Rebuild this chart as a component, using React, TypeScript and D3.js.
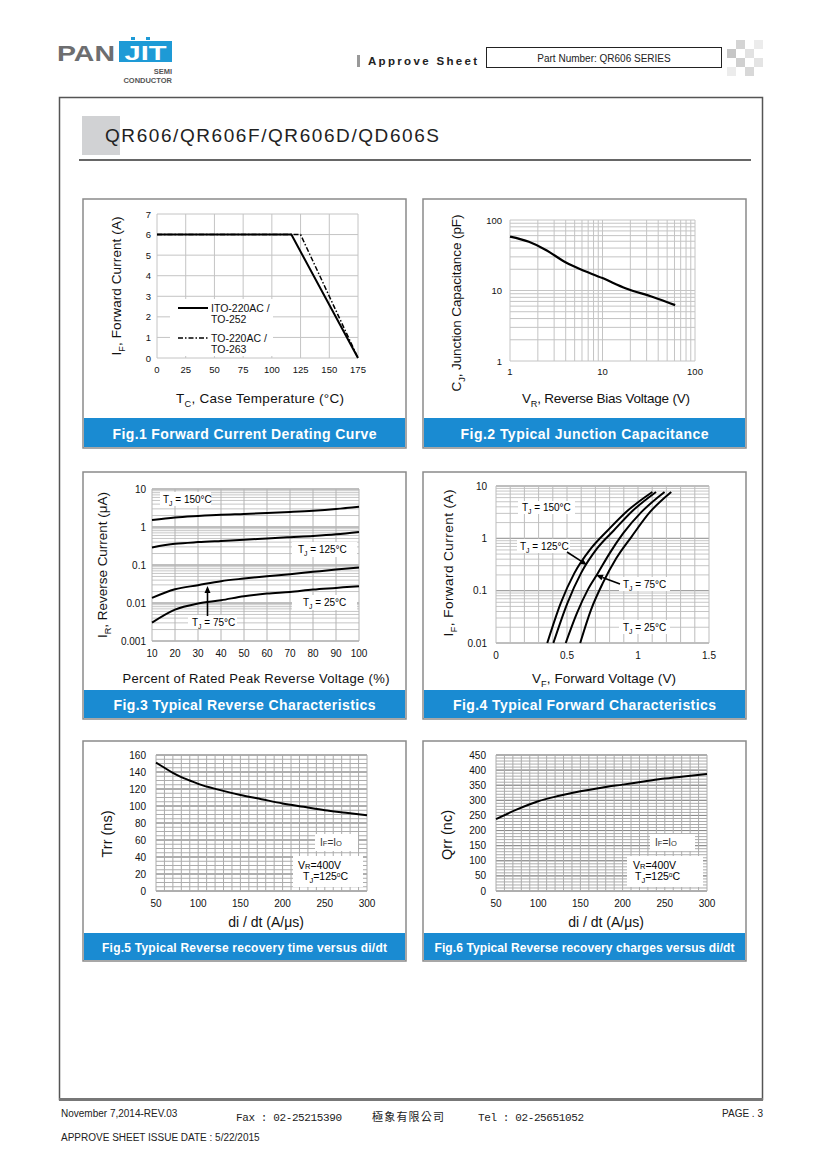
import React from 'react';
import * as d3 from 'd3';

const FONT = '"Liberation Sans", Arial, Helvetica, sans-serif';
const MONO = '"Liberation Mono", "DejaVu Sans Mono", monospace';
const BLUE = '#1a8bd2';

// Fig.1 forward current derating curve
const tcTicks = [0, 25, 50, 75, 100, 125, 150, 175];
const ifTicks = [0, 1, 2, 3, 4, 5, 6, 7];
const itoTemp = [0, 117, 175];
const itoAmps = [6, 6, 0];
const to220Temp = [0, 125, 175];
const to220Amps = [6, 6, 0];

// Fig.2 junction capacitance
const vrTicks = [1, 10, 100];
const cjTicks = [1, 10, 100];
const capVolt = [1, 1.6, 2.5, 3.8, 5.3, 10, 18, 35, 61];
const capPf = [58, 49, 37, 26, 21, 15, 10.7, 8.1, 6.2];

// Fig.3 reverse characteristics
const pctTicks = [10, 20, 30, 40, 50, 60, 70, 80, 90, 100];
const irTicks = [0.001, 0.01, 0.1, 1, 10];
const irLabels = ['0.001', '0.01', '0.1', '1', '10'];
const rev150 = [1.52, 1.78, 1.95, 2.1, 2.2, 2.32, 2.48, 2.68, 2.98, 3.42];
const rev125 = [0.29, 0.36, 0.4, 0.43, 0.46, 0.5, 0.54, 0.58, 0.64, 0.74];
const rev75 = [0.0136, 0.023, 0.0294, 0.0375, 0.044, 0.0507, 0.0573, 0.066, 0.076, 0.086];
const rev25 = [0.00305, 0.0067, 0.0097, 0.0118, 0.0151, 0.0177, 0.0196, 0.0226, 0.025, 0.0277];

// Fig.4 forward characteristics
const vfTicks = [0, 0.5, 1, 1.5];
const vfLabels = ['0', '0.5', '1', '1.5'];
const fwdTicks = [0.01, 0.1, 1, 10];
const fwdLabels = ['0.01', '0.1', '1', '10'];
const fwd150V = [0.361, 0.456, 0.551, 0.669, 0.788, 0.93, 1.101];
const fwd150I = [0.01, 0.058, 0.214, 0.641, 1.43, 3.44, 7.7];
const fwd125V = [0.404, 0.503, 0.598, 0.712, 0.831, 0.966, 1.127];
const fwd125I = [0.01, 0.058, 0.214, 0.641, 1.43, 3.44, 7.7];
const fwd75V = [0.491, 0.57, 0.646, 0.717, 0.8, 0.895, 1.025, 1.187];
const fwd75I = [0.01, 0.0373, 0.1035, 0.215, 0.516, 1.24, 3.2, 7.7];
const fwd25V = [0.593, 0.669, 0.752, 0.847, 0.954, 1.085, 1.234];
const fwd25I = [0.01, 0.043, 0.139, 0.415, 1.07, 3.2, 7.7];

// Fig.5 / Fig.6 reverse recovery
const didtTicks = [50, 100, 150, 200, 250, 300];
const trrTicks = [0, 20, 40, 60, 80, 100, 120, 140, 160];
const trrDidt = [50, 60, 70, 80, 90, 100, 125, 150, 175, 200, 225, 250, 275, 300];
const trrNs = [151, 145, 139, 134, 130, 126, 119, 113, 108, 103, 99, 95, 92, 89];
const qrrTicks = [0, 50, 100, 150, 200, 250, 300, 350, 400, 450];
const qrrDidt = [50, 75, 100, 125, 150, 175, 200, 225, 250, 275, 300];
const qrrNc = [238, 270, 297, 315, 330, 342, 352, 362, 372, 380, 387];

type Box = { x: number; y: number; w: number; h: number; cap: number };

const logGrid = (lo: number, hi: number) =>
  d3
    .range(Math.round(Math.log10(lo)), Math.round(Math.log10(hi)))
    .flatMap((e) => d3.range(1, 10).map((k) => k * Math.pow(10, e)))
    .concat([hi]);

const path = (xs: number[], ys: number[], sx: any, sy: any, curve: any = d3.curveMonotoneX) =>
  d3
    .line<number>()
    .x((_, i) => sx(xs[i]))
    .y((_, i) => sy(ys[i]))
    .curve(curve)(xs) || '';

const Panel = ({ b, caption, size, len }: { b: Box; caption: string; size: number; len: number }) => (
  <g>
    <rect x={b.x} y={b.y} width={b.w} height={b.h} fill="#fff" stroke="#8a8a8a" strokeWidth={1.5} />
    <rect x={b.x + 1} y={b.y + b.h - b.cap - 1} width={b.w - 2} height={b.cap} fill={BLUE} />
    <text
      x={b.x + b.w / 2}
      y={b.y + b.h - b.cap / 2 + size * 0.36}
      textAnchor="middle"
      fill="#fff"
      fontWeight="bold"
      fontSize={size}
      textLength={len}
    >
      {caption}
    </text>
  </g>
);

// text with a subscript letter
const Sub = ({ a, s, b, fs }: { a: string; s: string; b: string; fs: number }) => (
  <>
    {a}
    <tspan fontSize={fs * 0.68} dy={fs * 0.28}>
      {s}
    </tspan>
    <tspan dy={-fs * 0.28}>{b}</tspan>
  </>
);

const Label = ({ x, y, bx, by, bw, bh, t }: any) => (
  <g>
    <rect x={bx} y={by} width={bw} height={bh} fill="#fff" />
    <text x={x} y={y} fontSize={10}>
      <Sub a="T" s="J" b={` = ${t}°C`} fs={10} />
    </text>
  </g>
);

const Arrow = ({ x1, y1, x2, y2 }: any) => {
  const a = Math.atan2(y2 - y1, x2 - x1);
  const L = 7;
  const W = 3;
  const bx = x2 - L * Math.cos(a);
  const by = y2 - L * Math.sin(a);
  const px = -Math.sin(a) * W;
  const py = Math.cos(a) * W;
  return (
    <g>
      <line x1={x1} y1={y1} x2={bx} y2={by} stroke="#000" strokeWidth={1.6} />
      <polygon points={`${x2},${y2} ${bx + px},${by + py} ${bx - px},${by - py}`} fill="#000" />
    </g>
  );
};

const RecoveryNote = ({ b1, b2, tx1, tx2, tx3 }: any) => (
  <g fontSize={10}>
    <rect x={b1[0]} y={b1[1]} width={b1[2]} height={b1[3]} fill="#fff" />
    <rect x={b2[0]} y={b2[1]} width={b2[2]} height={b2[3]} fill="#fff" />
    <text x={tx1} y={846} fill="#333">
      I<tspan fontSize={7.5}>F</tspan>=I<tspan fontSize={7.5}>O</tspan>
    </text>
    <text x={tx2} y={869} fontSize={10.5}>
      V<tspan fontSize={7.5}>R</tspan>=400V
    </text>
    <text x={tx3} y={880} fontSize={10.5}>
      T<tspan fontSize={7.5} dy={2.5}>J</tspan>
      <tspan dy={-2.5}>=125</tspan>
      <tspan fontSize={6.5} dy={-3.5}>o</tspan>
      <tspan dy={3.5}>C</tspan>
    </text>
  </g>
);

export default function App() {
  const x1 = d3.scaleLinear().domain([0, 175]).range([157, 358]);
  const y1 = d3.scaleLinear().domain([0, 7]).range([358, 214]);
  const x2 = d3.scaleLog().domain([1, 100]).range([510, 695]);
  const y2 = d3.scaleLog().domain([1, 100]).range([361, 220]);
  const x3 = d3.scaleLinear().domain([10, 100]).range([152, 359]);
  const y3 = d3.scaleLog().domain([0.001, 10]).range([641, 489]);
  const x4 = d3.scaleLinear().domain([0, 1.5]).range([496, 709]);
  const y4 = d3.scaleLog().domain([0.01, 10]).range([643, 486]);
  const x5 = d3.scaleLinear().domain([50, 300]).range([156, 367]);
  const y5 = d3.scaleLinear().domain([0, 160]).range([891, 755]);
  const x6 = d3.scaleLinear().domain([50, 300]).range([496, 707]);
  const y6 = d3.scaleLinear().domain([0, 450]).range([891, 755]);

  const p1: Box = { x: 83, y: 199, w: 323, h: 249, cap: 29 };
  const p2: Box = { x: 423, y: 199, w: 323, h: 249, cap: 29 };
  const p3: Box = { x: 83, y: 472, w: 323, h: 247, cap: 28 };
  const p4: Box = { x: 423, y: 472, w: 323, h: 247, cap: 28 };
  const p5: Box = { x: 83, y: 741, w: 323, h: 220, cap: 27 };
  const p6: Box = { x: 423, y: 741, w: 323, h: 220, cap: 27 };

  const vl = (vals: number[], sx: any, ya: number, yb: number, stroke: string, key: string) =>
    vals.map((v, i) => (
      <line key={key + i} x1={sx(v)} x2={sx(v)} y1={ya} y2={yb} stroke={stroke} strokeWidth={1} />
    ));
  const hl = (vals: number[], sy: any, xa: number, xb: number, stroke: string, key: string) =>
    vals.map((v, i) => (
      <line key={key + i} x1={xa} x2={xb} y1={sy(v)} y2={sy(v)} stroke={stroke} strokeWidth={1} />
    ));

  const checker = [
    [736, 40, '#d4d4d4'],
    [727, 49, '#c6c6c6'],
    [745, 49, '#e2e2e2'],
    [754, 40, '#ececec'],
    [736, 58, '#d0d0d0'],
    [754, 58, '#e4e4e4'],
    [745, 67, '#d8d8d8'],
    [727, 67, '#ececec'],
  ];

  return (
    <svg
      width={820}
      height={1160}
      style={{ position: 'absolute', left: 0, top: 0, background: '#fff' }}
      fontFamily={FONT}
    >
      <rect x={0} y={0} width={820} height={1160} fill="#fff" />

      {/* header */}
      <text x={57} y={61} fontSize={22} fontWeight="900" fill="#6d6e70" textLength={58} lengthAdjust="spacingAndGlyphs">
        PAN
      </text>
      <rect x={119} y={41} width={53} height={21} fill="#1e9ad6" />
      <rect x={131} y={37} width={4} height={3} fill="#1e9ad6" />
      <rect x={146} y={37} width={4} height={3} fill="#1e9ad6" />
      <text x={145.5} y={60} fontSize={20} fontWeight="900" fill="#fff" textAnchor="middle" textLength={42} lengthAdjust="spacingAndGlyphs">
        JIT
      </text>
      <text x={172} y={74} fontSize={7.5} fontWeight="bold" fill="#555" textAnchor="end">
        SEMI
      </text>
      <text x={172} y={83} fontSize={7.5} fontWeight="bold" fill="#555" textAnchor="end">
        CONDUCTOR
      </text>
      <rect x={357} y={55} width={3} height={12} fill="#999" />
      <text x={368} y={65} fontSize={11.5} fontWeight="bold" fill="#222" textLength={109}>
        Approve Sheet
      </text>
      <rect x={486.5} y={47.5} width={235} height={20} fill="#fff" stroke="#222" strokeWidth={1} />
      <text x={604} y={62} fontSize={10} fill="#222" textAnchor="middle">
        Part Number: QR606 SERIES
      </text>
      {checker.map((c, i) => (
        <rect key={'ck' + i} x={c[0] as number} y={c[1] as number} width={9} height={9} fill={c[2] as string} />
      ))}

      {/* page frame */}
      <rect x={59.5} y={97.5} width={703} height={1002} fill="none" stroke="#555" strokeWidth={1.5} />
      <line x1={59} x2={763} y1={1099.5} y2={1099.5} stroke="#777" strokeWidth={3} />

      {/* title */}
      <rect x={82} y={116} width={38} height={39} fill="#d1d2d4" />
      <text x={105} y={142} fontSize={19} fill="#222" textLength={334}>
        QR606/QR606F/QR606D/QD606S
      </text>
      <line x1={79} x2={751} y1={160} y2={160} stroke="#333" strokeWidth={1.5} />

      {/* ---------- Fig.1 ---------- */}
      <Panel b={p1} caption="Fig.1 Forward Current Derating Curve" size={14} len={264} />
      {vl(tcTicks, x1, 214, 358, '#c4c4c4', 'v1')}
      {hl(ifTicks, y1, 157, 358, '#c4c4c4', 'h1')}
      <rect x={170} y={299} width={103} height={57} fill="#fff" />
      <path d={path(itoTemp, itoAmps, x1, y1, d3.curveLinear)} fill="none" stroke="#000" strokeWidth={2} />
      <path
        d={path(to220Temp, to220Amps, x1, y1, d3.curveLinear)}
        fill="none"
        stroke="#000"
        strokeWidth={1.5}
        strokeDasharray="5,2,1.5,2"
      />
      <line x1={178} x2={208} y1={308} y2={308} stroke="#000" strokeWidth={2} />
      <line x1={178} x2={208} y1={338} y2={338} stroke="#000" strokeWidth={1.5} strokeDasharray="5,2,1.5,2" />
      <g fontSize={10.5} fill="#111">
        <text x={211} y={312}>ITO-220AC /</text>
        <text x={211} y={323}>TO-252</text>
        <text x={211} y={342}>TO-220AC /</text>
        <text x={211} y={353}>TO-263</text>
      </g>
      <g fontSize={9.5} fill="#111">
        {ifTicks.map((t) => (
          <text key={'yl1' + t} x={151} y={y1(t) + 3.5} textAnchor="end">
            {t}
          </text>
        ))}
        {tcTicks.map((t) => (
          <text key={'xl1' + t} x={x1(t)} y={373} textAnchor="middle">
            {t}
          </text>
        ))}
      </g>
      <text transform="translate(121,286) rotate(-90)" fontSize={13.5} textAnchor="middle" fill="#111" textLength={139}>
        <Sub a="I" s="F" b=", Forward Current (A)" fs={13.5} />
      </text>
      <text x={260} y={403} fontSize={13.5} textAnchor="middle" fill="#111" textLength={168}>
        <Sub a="T" s="C" b=", Case Temperature  (°C)" fs={13.5} />
      </text>

      {/* ---------- Fig.2 ---------- */}
      <Panel b={p2} caption="Fig.2 Typical Junction Capacitance" size={14} len={248} />
      {vl(logGrid(1, 100), x2, 220, 361, '#c4c4c4', 'v2')}
      {hl(logGrid(1, 100), y2, 510, 695, '#c4c4c4', 'h2')}
      <path d={path(capVolt, capPf, x2, y2)} fill="none" stroke="#000" strokeWidth={2.2} />
      <g fontSize={9.5} fill="#111">
        {cjTicks.map((t) => (
          <text key={'yl2' + t} x={502} y={y2(t) + 3.5} textAnchor="end">
            {t}
          </text>
        ))}
        {vrTicks.map((t) => (
          <text key={'xl2' + t} x={x2(t)} y={375} textAnchor="middle">
            {t}
          </text>
        ))}
      </g>
      <text transform="translate(461,303) rotate(-90)" fontSize={13.5} textAnchor="middle" fill="#111" textLength={177}>
        <Sub a="C" s="J" b=", Junction Capacitance (pF)" fs={13.5} />
      </text>
      <text x={606} y={403} fontSize={13.5} textAnchor="middle" fill="#111" textLength={168}>
        <Sub a="V" s="R" b=", Reverse Bias Voltage (V)" fs={13.5} />
      </text>

      {/* ---------- Fig.3 ---------- */}
      <Panel b={p3} caption="Fig.3 Typical Reverse Characteristics" size={14} len={262} />
      {hl(logGrid(0.001, 10), y3, 152, 359, '#c6c6c6', 'h3')}
      {hl(irTicks, y3, 152, 359, '#9a9a9a', 'hm3')}
      {vl(pctTicks, x3, 489, 641, '#b4b4b4', 'v3')}
      <Label x={163} y={503} bx={160} by={492} bw={51} bh={14} t="150" />
      <Label x={298} y={553} bx={292} by={542} bw={65} bh={15} t="125" />
      <Label x={303} y={606} bx={292} by={595} bw={65} bh={15} t="25" />
      <Label x={192} y={626} bx={188} by={615} bw={49} bh={14} t="75" />
      {[rev150, rev125, rev75, rev25].map((s, i) => (
        <path key={'r3' + i} d={path(pctTicks, s, x3, y3)} fill="none" stroke="#000" strokeWidth={2} />
      ))}
      <Arrow x1={207.5} y1={616} x2={207.5} y2={586} />
      <g fontSize={10} fill="#111">
        {irTicks.map((t, i) => (
          <text key={'yl3' + i} x={146} y={y3(t) + 3.5} textAnchor="end">
            {irLabels[i]}
          </text>
        ))}
        {pctTicks.map((t) => (
          <text key={'xl3' + t} x={x3(t)} y={657} textAnchor="middle">
            {t}
          </text>
        ))}
      </g>
      <text transform="translate(107,565) rotate(-90)" fontSize={13.5} textAnchor="middle" fill="#111" textLength={146}>
        <Sub a="I" s="R" b=", Reverse Current (μA)" fs={13.5} />
      </text>
      <text x={256} y={683} fontSize={13} textAnchor="middle" fill="#111" textLength={267}>
        Percent of Rated Peak Reverse Voltage (%)
      </text>

      {/* ---------- Fig.4 ---------- */}
      <Panel b={p4} caption="Fig.4 Typical Forward Characteristics" size={14} len={263} />
      {hl(logGrid(0.01, 10), y4, 496, 709, '#c6c6c6', 'h4')}
      {hl(fwdTicks, y4, 496, 709, '#9a9a9a', 'hm4')}
      {vl(d3.range(0, 16).map((k) => k / 10), x4, 486, 643, '#bdbdbd', 'v4')}
      <Label x={522} y={511} bx={518} by={501} bw={57} bh={13} t="150" />
      <Label x={520} y={550} bx={517} by={539} bw={53} bh={14} t="125" />
      <Label x={623} y={588} bx={619} by={577} bw={51} bh={14} t="75" />
      <Label x={623} y={631} bx={619} by={620} bw={51} bh={14} t="25" />
      {[
        [fwd150V, fwd150I],
        [fwd125V, fwd125I],
        [fwd75V, fwd75I],
        [fwd25V, fwd25I],
      ].map((s, i) => (
        <path key={'f4' + i} d={path(s[0], s[1], x4, y4)} fill="none" stroke="#000" strokeWidth={2} />
      ))}
      <Arrow x1={567} y1={552} x2={587} y2={565} />
      <Arrow x1={620} y1={584} x2={596} y2={575} />
      <g fontSize={10} fill="#111">
        {fwdTicks.map((t, i) => (
          <text key={'yl4' + i} x={487} y={y4(t) + 3.5} textAnchor="end">
            {fwdLabels[i]}
          </text>
        ))}
        {vfTicks.map((t, i) => (
          <text key={'xl4' + i} x={x4(t)} y={659} textAnchor="middle">
            {vfLabels[i]}
          </text>
        ))}
      </g>
      <text transform="translate(453,563) rotate(-90)" fontSize={13.5} textAnchor="middle" fill="#111" textLength={147}>
        <Sub a="I" s="F" b=", Forward Current (A)" fs={13.5} />
      </text>
      <text x={604} y={683} fontSize={13.5} textAnchor="middle" fill="#111" textLength={144}>
        <Sub a="V" s="F" b=", Forward Voltage (V)" fs={13.5} />
      </text>

      {/* ---------- Fig.5 ---------- */}
      <Panel b={p5} caption="Fig.5 Typical Reverse recovery time versus di/dt" size={12} len={285} />
      {hl(d3.range(0, 161, 5), y5, 156, 367, '#acacac', 'h5')}
      {hl(trrTicks, y5, 156, 367, '#888', 'hm5')}
      {vl(d3.range(50, 301, 10), x5, 755, 891, '#acacac', 'v5')}
      <RecoveryNote b1={[315, 834, 43, 17]} b2={[293, 856, 70, 31]} tx1={320} tx2={298} tx3={303} />
      <path d={path(trrDidt, trrNs, x5, y5)} fill="none" stroke="#000" strokeWidth={2} />
      <g fontSize={10} fill="#111">
        {trrTicks.map((t) => (
          <text key={'yl5' + t} x={146} y={y5(t) + 3.5} textAnchor="end">
            {t}
          </text>
        ))}
        {didtTicks.map((t) => (
          <text key={'xl5' + t} x={x5(t)} y={907} textAnchor="middle">
            {t}
          </text>
        ))}
      </g>
      <text transform="translate(112,834) rotate(-90)" fontSize={14.5} textAnchor="middle" fill="#111">
        Trr (ns)
      </text>
      <text x={266} y={927} fontSize={14} textAnchor="middle" fill="#111">
        di / dt (A/μs)
      </text>

      {/* ---------- Fig.6 ---------- */}
      <Panel b={p6} caption="Fig.6 Typical Reverse recovery charges versus di/dt" size={12} len={300} />
      {hl(d3.range(0, 451, 10), y6, 496, 707, '#acacac', 'h6')}
      {hl(qrrTicks, y6, 496, 707, '#888', 'hm6')}
      {vl(d3.range(50, 301, 10), x6, 755, 891, '#acacac', 'v6')}
      <RecoveryNote b1={[650, 834, 45, 17]} b2={[627, 856, 76, 31]} tx1={655} tx2={633} tx3={635} />
      <path d={path(qrrDidt, qrrNc, x6, y6)} fill="none" stroke="#000" strokeWidth={2} />
      <g fontSize={10} fill="#111">
        {qrrTicks.map((t) => (
          <text key={'yl6' + t} x={486} y={y6(t) + 3.5} textAnchor="end">
            {t}
          </text>
        ))}
        {didtTicks.map((t) => (
          <text key={'xl6' + t} x={x6(t)} y={907} textAnchor="middle">
            {t}
          </text>
        ))}
      </g>
      <text transform="translate(452,835) rotate(-90)" fontSize={14.5} textAnchor="middle" fill="#111">
        Qrr  (nc)
      </text>
      <text x={606} y={927} fontSize={14} textAnchor="middle" fill="#111">
        di / dt (A/μs)
      </text>

      {/* footer */}
      <g fontSize={10} fill="#222">
        <text x={61} y={1117}>November 7,2014-REV.03</text>
        <text x={236} y={1121} fontFamily={MONO} fontSize={11} textLength={106}>
          Fax : 02-25215390
        </text>
        <text x={372} y={1121} fontFamily='"Noto Sans CJK TC", sans-serif' fontSize={11} textLength={72}>
          極象有限公司
        </text>
        <text x={478} y={1121} fontFamily={MONO} fontSize={11} textLength={106}>
          Tel : 02-25651052
        </text>
        <text x={763} y={1117} textAnchor="end">
          PAGE . 3
        </text>
        <text x={61} y={1141}>APPROVE SHEET ISSUE DATE : 5/22/2015</text>
      </g>
    </svg>
  );
}
